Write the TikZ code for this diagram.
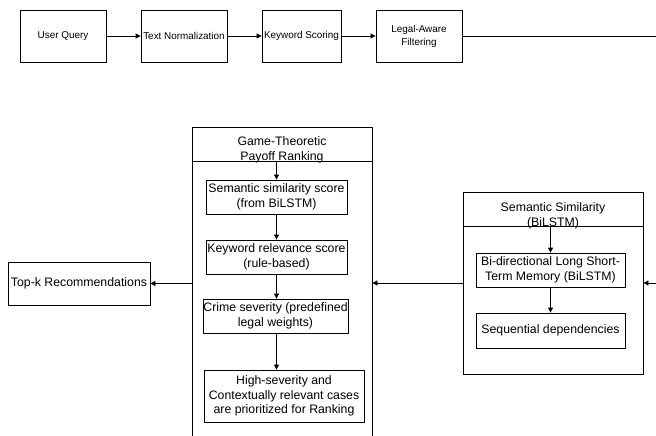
\documentclass[tikz,border=0pt]{standalone}
\usepackage{fontspec}
\setmainfont{Liberation Sans}
\usetikzlibrary{arrows.meta}
\begin{document}
\begin{tikzpicture}[x=1pt,y=-1pt,
  txt/.style={align=center, inner sep=0pt, font=\fontsize{12.3}{14.5}\selectfont},
  smalltxt/.style={align=center, inner sep=0pt, font=\fontsize{9.9}{13}\selectfont},
  box/.style={txt, draw, line width=0.8pt},
  sbox/.style={smalltxt, draw, line width=0.8pt},
  arr/.style={-{Triangle[length=5pt,width=5pt]}, line width=0.8pt},
  ln/.style={line width=0.8pt}]
\useasboundingbox (0,0) rectangle (656,436);
\clip (0,0) rectangle (656,436);
% top row
\node[sbox, minimum width=86pt, minimum height=52pt] (uq) at (63,36) {User Query};
\node[sbox, minimum width=86pt, minimum height=52pt] (tn) at (184,36) {Text Normalization};
\node[sbox, minimum width=79pt, minimum height=52pt] (ks) at (301.5,36) {Keyword Scoring};
\node[sbox, minimum width=86pt, minimum height=52pt] (laf) at (419,36) {Legal-Aware\\Filtering};
\coordinate (re1) at (662,36);
\coordinate (re2) at (662,283);
\draw[arr] (uq) -- (tn);
\draw[arr] (tn) -- (ks);
\draw[arr] (ks) -- (laf);
\draw[ln] (laf) -- (re1);
% semantic similarity container
\node[draw, line width=0.8pt, minimum width=180pt, minimum height=182pt, inner sep=0pt] (ss) at (553,283) {};
\path (ss.north west) ++(0,35) coordinate (ssdl);
\path (ss.north east) ++(0,35) coordinate (ssdr);
\draw[ln] (ssdl) -- (ssdr);
\node[txt] (sst) at (553,216) {Semantic Similarity\\(BiLSTM)};
\node[box, minimum width=149pt, minimum height=34pt] (b1) at (550.5,270) {Bi-directional Long Short-\\Term Memory (BiLSTM)};
\node[box, minimum width=149pt, minimum height=35pt] (b2) at (550.5,330.5) {Sequential dependencies};
\draw[arr] (ssdl -| b1.north) -- (b1.north);
\draw[arr] (b1) -- (b2);
\draw[arr] (re2) -- (ss.east);
% game-theoretic container
\node[draw, line width=0.8pt, minimum width=180pt, minimum height=318pt, inner sep=0pt] (gt) at (282,286) {};
\path (gt.north west) ++(0,35) coordinate (gtdl);
\path (gt.north east) ++(0,35) coordinate (gtdr);
\draw[ln] (gtdl) -- (gtdr);
\node[txt] (gtt) at (282,150) {Game-Theoretic\\Payoff Ranking};
\node[box, minimum width=141pt, minimum height=34pt] (s1) at (276.5,197) {Semantic similarity score\\(from BiLSTM)};
\node[box, minimum width=141pt, minimum height=34pt] (s2) at (276.5,257) {Keyword relevance score\\(rule-based)};
\node[box, minimum width=145pt, minimum height=34pt] (s3) at (275.5,316) {Crime severity (predefined\\legal weights)};
\node[box, minimum width=160pt, minimum height=52pt] (s4) at (284,396) {High-severity and\\Contextually relevant cases\\are prioritized for Ranking};
\draw[arr] (gtdl -| s1.north) -- (s1.north);
\draw[arr] (s1) -- (s2);
\draw[arr] (s2.south) -- (s2.south |- s3.north);
\draw[arr] (s2.south |- s3.south) -- (s2.south |- s4.north);
\draw[arr] (ss.west) -- (ss.west -| gt.east);
% output
\node[box, minimum width=142pt, minimum height=43pt] (topk) at (79,283.5) {Top-k Recommendations};
\draw[arr] (gt.west |- topk.east) -- (topk.east);
\end{tikzpicture}
\end{document}
